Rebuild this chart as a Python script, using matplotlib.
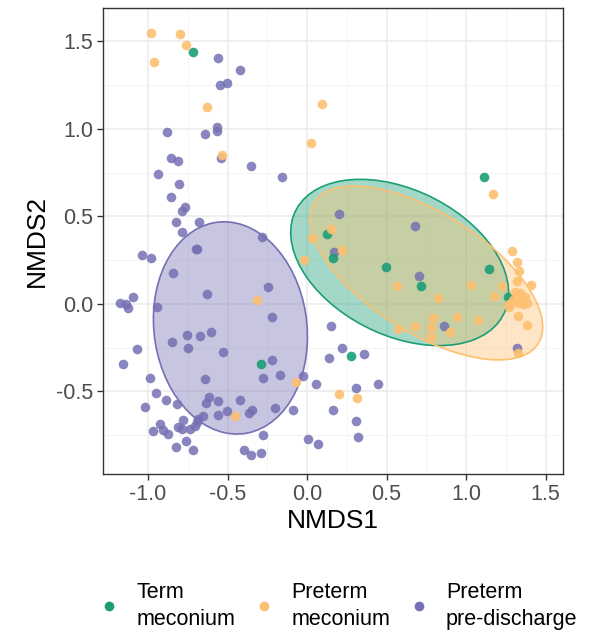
import numpy as np
import matplotlib
matplotlib.use("Agg")
import matplotlib.pyplot as plt
from matplotlib.patches import Ellipse
from matplotlib.lines import Line2D
from matplotlib.ticker import MultipleLocator

plt.rcParams['font.family'] = ['Liberation Sans', 'DejaVu Sans']
plt.rcParams['axes.unicode_minus'] = False

groups = ['Term\nmeconium', 'Preterm\nmeconium', 'Preterm\npre-discharge']
colors = ['#1B9E77', '#FDC070', '#7570B3']

# NMDS scores
term_x = [-0.719, 1.115, 0.126, 0.164, 0.497, 0.717, 1.147, 1.266, -0.287, 0.279]
term_y = [1.442, 0.724, 0.398, 0.265, 0.211, 0.103, 0.200, 0.042, -0.343, -0.297]

pre_x = [-0.981, -0.799, -0.761, -0.962, -0.631, 0.096, 0.027, -0.537, 1.168, 0.149,
         0.031, 0.218, -0.019, 0.564, 0.821, 1.031, 1.224, 1.174, 1.287, 1.319,
         1.333, 1.323, 1.407, 1.308, 1.340, 1.371, 1.350, 1.381, 1.360, 1.297,
         1.329, 1.273, 1.269, 1.327, 1.381, 1.329, 0.790, 0.941, 1.077, 0.679,
         0.778, 0.574, 0.899, 0.780, -0.317, -0.071, 0.203, 0.316, -0.451]
pre_y = [1.547, 1.543, 1.482, 1.381, 1.124, 1.143, 0.922, 0.851, 0.629, 0.429,
         0.379, 0.310, 0.251, 0.105, 0.033, 0.109, 0.103, 0.048, 0.305, 0.242,
         0.190, 0.133, 0.110, 0.070, 0.061, 0.042, 0.023, 0.004, 0.000, 0.023,
         0.004, 0.000, -0.015, -0.069, -0.120, -0.278, -0.082, -0.076, -0.091, -0.124,
         -0.130, -0.145, -0.160, -0.190, 0.023, -0.444, -0.516, -0.539, -0.640]

dis_x = [-0.562, -0.425, -0.547, -0.503, -0.883, -0.644, -0.564, -0.568, -0.853, -0.813,
         -0.541, -0.354, -0.155, -0.935, -0.805, -0.857, -0.769, -0.786, -0.826, -0.677,
         -0.784, -0.283, -0.700, -0.690, -1.040, -0.981, -0.841, -0.247, -0.631, -1.174,
         -1.138, -1.096, -1.124, -0.945, -0.218, -0.753, -0.675, -0.606, -0.849, -0.750,
         -1.071, -0.528, -1.155, -0.222, -0.170, -0.279, -0.023, -0.989, -0.642, 0.059,
         0.153, 0.220, 0.136, 0.166, -0.948, -0.889, -1.017, -0.816, -0.614, -0.635,
         -0.558, -0.425, -0.505, -0.558, -0.652, -0.365, -0.346, -0.203, -0.090, -0.684,
         -0.694, -0.704, -0.778, -0.813, -0.786, -0.736, -0.925, -0.967, -0.903, -0.876,
         -0.761, -0.824, -0.719, -0.277, -0.398, -0.350, -0.289, 0.004, 0.069, 0.203,
         0.681, 0.170, 0.702, 0.858, 1.323, 0.358, 0.308, 0.447, 0.308, 0.321]
dis_y = [1.404, 1.335, 1.253, 1.261, 0.985, 0.970, 1.013, 0.989, 0.834, 0.819,
         0.836, 0.789, 0.726, 0.743, 0.688, 0.610, 0.554, 0.531, 0.467, 0.467,
         0.413, 0.385, 0.313, 0.313, 0.280, 0.265, 0.177, 0.095, 0.059, 0.006,
         0.000, 0.038, -0.025, -0.015, -0.076, -0.177, -0.181, -0.162, -0.219, -0.250,
         -0.259, -0.274, -0.345, -0.322, -0.406, -0.421, -0.413, -0.425, -0.427, -0.459,
         -0.126, -0.250, -0.310, -0.608, -0.510, -0.549, -0.590, -0.571, -0.530, -0.568,
         -0.556, -0.549, -0.610, -0.634, -0.640, -0.621, -0.606, -0.594, -0.604, -0.655,
         -0.672, -0.695, -0.663, -0.701, -0.714, -0.716, -0.686, -0.724, -0.720, -0.743,
         -0.781, -0.819, -0.832, -0.750, -0.834, -0.861, -0.850, -0.770, -0.800, 0.513,
         0.446, 0.295, 0.160, -0.124, -0.253, -0.286, -0.478, -0.459, -0.667, -0.762]

# confidence ellipses: centre, full width, full height, angle (deg)
ell_cx = [0.582, 0.750, -0.482]
ell_cy = [0.237, 0.177, -0.137]
ell_w = [1.438, 1.624, 1.22]
ell_h = [0.844, 0.702, 0.96]
ell_ang = [-22.0, -28.7, 100.0]

fig = plt.figure(figsize=(5.89, 6.31), dpi=100)
ax = fig.add_axes([0.175, 0.249, 0.781, 0.738])

for i in [2, 0, 1]:
    e = Ellipse((ell_cx[i], ell_cy[i]), ell_w[i], ell_h[i], angle=ell_ang[i],
                facecolor=colors[i], alpha=0.4, edgecolor='none', zorder=2)
    ax.add_patch(e)
    e2 = Ellipse((ell_cx[i], ell_cy[i]), ell_w[i], ell_h[i], angle=ell_ang[i],
                 facecolor='none', edgecolor=colors[i], lw=1.2, zorder=2.5)
    ax.add_patch(e2)

ax.scatter(dis_x, dis_y, s=48, color=colors[2], alpha=0.85, linewidths=0, zorder=3)
ax.scatter(term_x, term_y, s=48, color=colors[0], alpha=0.9, linewidths=0, zorder=3)
ax.scatter(pre_x, pre_y, s=48, color=colors[1], alpha=0.9, linewidths=0, zorder=3)

ax.set_xlim(-1.283, 1.61)
ax.set_ylim(-0.971, 1.69)
ax.xaxis.set_major_locator(MultipleLocator(0.5))
ax.yaxis.set_major_locator(MultipleLocator(0.5))
ax.xaxis.set_minor_locator(MultipleLocator(0.25))
ax.yaxis.set_minor_locator(MultipleLocator(0.25))
ax.grid(which='major', color='#EBEBEB', lw=1.1, zorder=0)
ax.grid(which='minor', color='#F2F2F2', lw=0.6, zorder=0)
ax.set_axisbelow(True)
ax.tick_params(which='minor', length=0)
ax.tick_params(which='major', length=4, width=1, color='#333333',
               labelsize=15.5, labelcolor='#4D4D4D', pad=3)
for sp in ax.spines.values():
    sp.set_color('#333333')
    sp.set_linewidth(1)

ax.set_xlabel('NMDS1', fontsize=19, labelpad=3)
ax.set_ylabel('NMDS2', fontsize=19, labelpad=5)

handles = [Line2D([], [], ls='none', marker='o', ms=7, mew=0, color=c) for c in colors]
leg = fig.legend(handles, groups, loc='center', bbox_to_anchor=(0.574, 0.040), ncol=3,
                 frameon=False, fontsize=15.5, handlelength=1.0, handletextpad=0.75,
                 columnspacing=0.85, labelspacing=0.2)
for t in leg.get_texts():
    t.set_linespacing(1.35)

fig.savefig('out.png', dpi=100)
